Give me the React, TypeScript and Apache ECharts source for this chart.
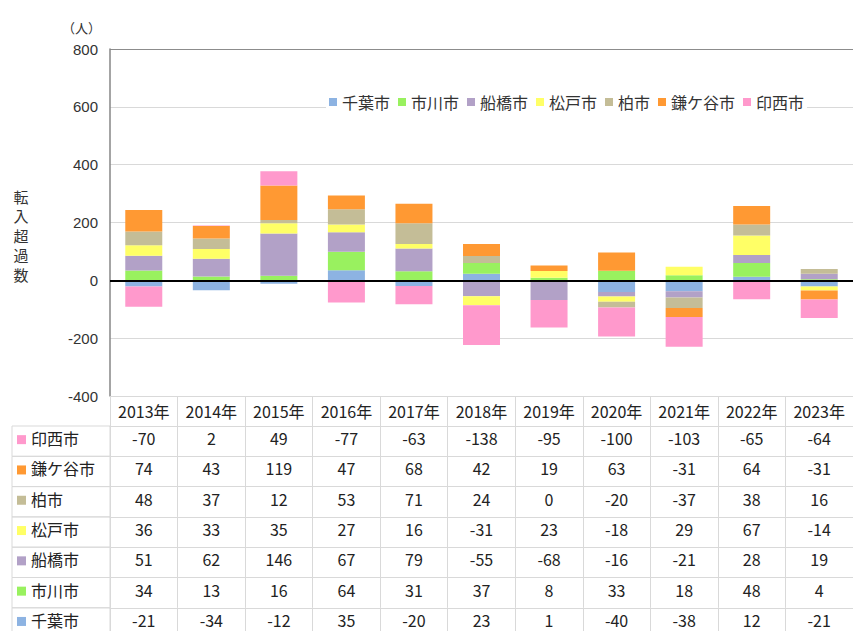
import React, { useEffect, useRef } from "react";
import * as echarts from "echarts";

const years = ["2013年", "2014年", "2015年", "2016年", "2017年", "2018年", "2019年", "2020年", "2021年", "2022年", "2023年"];
const cityNames = ["千葉市", "市川市", "船橋市", "松戸市", "柏市", "鎌ケ谷市", "印西市"];
const chiba = [-21, -34, -12, 35, -20, 23, 1, -40, -38, 12, -21];
const ichikawa = [34, 13, 16, 64, 31, 37, 8, 33, 18, 48, 4];
const funabashi = [51, 62, 146, 67, 79, -55, -68, -16, -21, 28, 19];
const matsudo = [36, 33, 35, 27, 16, -31, 23, -18, 29, 67, -14];
const kashiwa = [48, 37, 12, 53, 71, 24, 0, -20, -37, 38, 16];
const kamagaya = [74, 43, 119, 47, 68, 42, 19, 63, -31, 64, -31];
const inzai = [-70, 2, 49, -77, -63, -138, -95, -100, -103, -65, -64];
const cityColors = ["#8DB3E2", "#99F15F", "#B2A1C7", "#FFFF66", "#C4BD97", "#FF9933", "#FF99CC"];
const yTitleChars = ["転", "入", "超", "過", "数"];

const seriesValues = [chiba, ichikawa, funabashi, matsudo, kashiwa, kamagaya, inzai];

const W = 853;
const H = 631;
const GRID_LEFT = 110;
const GRID_TOP = 49;
const GRID_BOTTOM_Y = 396;
const GRID_WIDTH = 745;
const HEADER_H = 30;
const ROW_H = 30.3;
const TABLE_LEFT = 12;
const GRAY = "#D9D9D9";
const FONT = '"Noto Sans CJK JP", "Noto Sans", sans-serif';

export default function App() {
  const ref = useRef<HTMLDivElement>(null);

  useEffect(() => {
    if (!ref.current) return;
    const chart = echarts.init(ref.current, undefined, { renderer: "svg" });

    // table rows: top-down reverse of stacking order
    const rowOrder = [6, 5, 4, 3, 2, 1, 0];

    const rowAxes = rowOrder.map((si, k) => ({
      type: "category",
      gridIndex: 0,
      position: "bottom",
      offset: HEADER_H + k * ROW_H,
      data: years,
      axisLine: { show: true, onZero: false, lineStyle: { color: GRAY, width: 1 } },
      axisTick: { show: true, length: ROW_H, lineStyle: { color: GRAY, width: 1 } },
      axisLabel: {
        interval: 0,
        margin: 4,
        fontSize: 16,
        color: "#222",
        fontFamily: FONT,
        formatter: (_v: string, idx: number) => String(seriesValues[si][idx]),
      },
      splitLine: { show: false },
    }));

    const graphics: any[] = [];
    rowOrder.forEach((si, k) => {
      const y = GRID_BOTTOM_Y + HEADER_H + k * ROW_H;
      graphics.push({
        type: "rect",
        shape: { x: TABLE_LEFT, y, width: GRID_LEFT - TABLE_LEFT, height: ROW_H },
        style: { fill: "none", stroke: GRAY, lineWidth: 1 },
        silent: true,
      });
      graphics.push({
        type: "rect",
        shape: { x: 17, y: y + ROW_H / 2 - 6, width: 9, height: 9 },
        style: { fill: cityColors[si] },
        silent: true,
      });
      graphics.push({
        type: "text",
        x: 31,
        y: y + ROW_H / 2 - 3,
        style: {
          text: cityNames[si],
          fontSize: 16,
          fontFamily: FONT,
          fill: "#222",
          verticalAlign: "middle",
          textAlign: "left",
        },
        silent: true,
      });
    });
    graphics.push({
      type: "text",
      x: 62,
      y: 21,
      style: { text: "（人）", fontSize: 13, fontFamily: FONT, fill: "#333" },
      silent: true,
    });
    yTitleChars.forEach((ch, i) => {
      graphics.push({
        type: "text",
        x: 21,
        y: 196 + i * 19.5,
        style: {
          text: ch,
          fontSize: 15,
          fontFamily: FONT,
          fill: "#333",
          textAlign: "center",
          verticalAlign: "middle",
        },
        silent: true,
      });
    });

    const series = cityNames.map((name, i) => {
      const s: any = {
        name,
        type: "bar",
        stack: "total",
        data: seriesValues[i],
        barWidth: 37,
        itemStyle: { color: cityColors[i] },
        xAxisIndex: 0,
        yAxisIndex: 0,
      };
      if (i === cityNames.length - 1) {
        s.markLine = {
          silent: true,
          symbol: ["none", "none"],
          label: { show: false },
          lineStyle: { color: "#000", width: 2, type: "solid" },
          data: [{ yAxis: 0 }],
        };
      }
      return s;
    });

    chart.setOption({
      animation: false,
      textStyle: { fontFamily: FONT },
      grid: { left: GRID_LEFT, top: GRID_TOP, width: GRID_WIDTH, height: GRID_BOTTOM_Y - GRID_TOP, containLabel: false },
      legend: {
        data: cityNames,
        left: 326,
        top: 93,
        padding: [1, 3],
        backgroundColor: "#fff",
        icon: "rect",
        itemWidth: 8,
        itemHeight: 8,
        itemGap: 8,
        textStyle: { fontSize: 16, color: "#333", fontFamily: FONT },
      },
      xAxis: [
        {
          type: "category",
          gridIndex: 0,
          position: "bottom",
          data: years,
          axisLine: { show: true, onZero: false, lineStyle: { color: GRAY, width: 1 } },
          axisTick: { show: true, length: HEADER_H, lineStyle: { color: GRAY, width: 1 } },
          axisLabel: { interval: 0, margin: 7, fontSize: 16, color: "#222", fontFamily: FONT },
          splitLine: { show: false },
        },
        ...rowAxes,
      ],
      yAxis: {
        type: "value",
        min: -400,
        max: 800,
        interval: 200,
        axisLine: { show: true, lineStyle: { color: "#868686", width: 1.5 } },
        axisTick: { show: false },
        axisLabel: { fontSize: 15, margin: 12, color: "#333", fontFamily: '"Liberation Sans", Arial, sans-serif' },
        splitLine: {
          show: true,
          lineStyle: { color: [GRAY, GRAY, GRAY, GRAY, GRAY, GRAY, "#8C8C8C"], width: 1 },
        },
      },
      graphic: graphics,
      series,
    });

    return () => chart.dispose();
  }, []);

  return (
    <div
      ref={ref}
      style={{ position: "absolute", left: 0, top: 0, width: W, height: H, background: "#fff" }}
    />
  );
}
